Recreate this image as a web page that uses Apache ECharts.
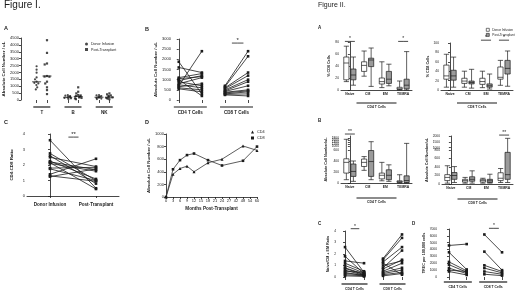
<!DOCTYPE html>
<html>
<head>
<meta charset="utf-8">
<script src="https://cdn.jsdelivr.net/npm/echarts@6/dist/echarts.min.js"></script>
<style>
html, body { margin: 0; padding: 0; background: #fff; }
#chart { width: 520px; height: 294px; }
</style>
</head>
<body>
<div id="chart"></div>
<script>
const ink = '#1b1b1b';

// ---- Figure I, panel A (column scatter) ----
const aCats = ['T', 'B', 'NK'];
const aTDonor = [2450, 2200, 1980, 1640, 1500, 1330, 1250, 1200, 1090, 920, 770];
const aTPost = [4340, 3420, 2650, 2580, 1740, 1700, 1690, 1330, 1200, 920, 720, 430];
const aBDonor = [360, 320, 290, 250, 220, 180, 150, 120, 80];
const aBPost = [920, 600, 480, 360, 330, 290, 250, 190, 150, 120, 60];
const aNKDonor = [360, 330, 290, 240, 210, 170, 140, 100, 70];
const aNKPost = [480, 410, 330, 290, 240, 190, 150, 100, 60];
const aMedDonor = [1320, 200, 200];
const aMedPost = [1740, 250, 200];

// ---- Figure I, panel B (paired) ----
const bGroups = ['CD4 T Cells', 'CD8 T Cells'];
const bCD4Donor = [1880, 1600, 1100, 1050, 1000, 950, 900, 800, 750, 700, 650, 600, 550];
const bCD4Post = [300, 1350, 1300, 1150, 200, 1200, 700, 1100, 600, 2400, 800, 500, 400];
const bCD8Donor = [700, 650, 600, 560, 500, 450, 420, 380, 350, 300, 280, 250];
const bCD8Post = [2400, 2150, 1350, 1200, 1000, 900, 700, 500, 450, 400, 300, 200];

// ---- Figure I, panel C (paired ratio) ----
const cCats = ['Donor Infusion', 'Post-Transplant'];
const cDonor = [3.6, 2.75, 2.6, 2.5, 2.25, 2.2, 2.15, 2.1, 1.8, 1.75, 1.4, 1.3, 1.25];
const cPost = [0.5, 1.0, 0.8, 1.9, 1.1, 1.7, 0.45, 1.6, 1.85, 1.0, 2.4, 0.95, 1.75];

// ---- Figure I, panel D (time course) ----
const dMonths = ['0', '3', '6', '9', '12', '15', '18', '21', '24', '27', '42', '48', '54', '60'];
const dCD4 = [0, 362, 452, 490, 400, null, 543, null, 600, null, null, 810, null, 740];
const dCD8 = [0, 440, 585, 665, 690, null, 585, null, 500, null, null, 575, null, 800];

// ---- Figure II, panels A and B (box plots: min, q1, median, q3, max) ----
const boxCats = ['Naive', 'CM', 'EM', 'TEMRA'];
const a4Donor = [[14, 17, 45, 55, 73], [23, 31, 41, 47, 65], [4, 10, 14, 20, 47], [0, 1, 2, 4.5, 15]];
const a4Post = [[8, 17, 25, 35, 55], [6, 39, 50, 53, 70], [7, 11, 18, 31, 43], [0, 2, 8, 18, 64]];
const a8Donor = [[6, 23, 30, 53, 76], [6, 14, 19, 25, 40], [5, 12, 18, 25, 40], [10, 23, 27, 49, 63]];
const a8Post = [[6, 21, 30, 42, 70], [4, 13, 16, 19, 44], [2, 6, 9, 13, 34], [8, 34, 46, 63, 83]];
const b4Donor = [[60, 180, 375, 440, 1670], [230, 300, 375, 435, 480], [40, 75, 140, 180, 375], [0, 10, 25, 40, 150]];
const b4Post = [[30, 120, 210, 345, 400], [60, 120, 390, 590, 1430], [30, 60, 140, 240, 330], [0, 10, 45, 130, 1260]];
const b8Donor = [[20, 80, 155, 220, 430], [20, 45, 80, 110, 155], [20, 45, 80, 110, 135], [35, 80, 135, 265, 365]];
const b8Post = [[35, 110, 200, 270, 410], [20, 65, 110, 170, 310], [20, 35, 75, 110, 230], [35, 110, 220, 745, 1800]];
const b4Ticks = [0, 200, 400, 600, 1000, 1200, 1400, 1600, 1800, 2000];
const b8Ticks = [0, 200, 400, 600, 800, 1000, 1500, 2000];

// ---- Figure II, panels C and D (paired) ----
const c4Donor = [2.6, 1.8, 1.4, 1.2, 1.0, 0.8, 0.75, 0.6, 0.5, 0.4, 0.3, 0.2, 0.1];
const c4Post = [0.4, 0.3, 1.2, 0.5, 0.35, 0.25, 0.2, 0.15, 0.4, 0.1, 0.2, 0.1, 0.05];
const c8Donor = [1.6, 1.5, 1.3, 1.0, 0.8, 0.7, 0.5, 0.4, 0.3, 0.2, 0.1, 1.2];
const c8Post = [3.7, 3.4, 2.6, 1.4, 2.3, 1.5, 1.2, 0.8, 0.6, 0.4, 0.3, 0.2];
const d4Donor = [4600, 3600, 2200, 1800, 1300, 1000, 800];
const d4Post = [4800, 1100, 900, 700, 500, 800, 300];
const d8Donor = [6200, 3700, 1700, 1300, 800, 400];
const d8Post = [3600, 1000, 800, 600, 400, 200];

const chart = echarts.init(document.getElementById('chart'), null, { renderer: 'canvas' });

const grids = [], xAxes = [], yAxes = [], series = [];
const add = (arr, o) => (arr.push(o), arr.length - 1);

function grid(left, top, width, height) {
    return add(grids, { left, top, width, height, outerBoundsMode: 'none' });
}

function yAxis(g, min, max, interval, name, gap, fs, extra) {
    return add(yAxes, Object.assign({
        gridIndex: g, type: 'value', min, max, interval,
        name, nameLocation: 'middle', nameGap: gap,
        nameTextStyle: { fontSize: fs + 0.4, fontWeight: 'bold', color: ink },
        axisLine: { show: true, lineStyle: { color: ink, width: 0.8 } },
        axisTick: { show: true, length: 2, lineStyle: { color: ink, width: 0.8 } },
        axisLabel: { fontSize: fs, color: ink, margin: 2, formatter: v => String(v) },
        splitLine: { show: false }
    }, extra || {}));
}

// value axis that only shows ticks under the columns and group names with a bar above
function groupAxis(g, min, max, ticks, pos, names, barW, fs, margin) {
    return add(xAxes, {
        gridIndex: g, type: 'value', min, max, position: 'bottom',
        axisLine: { show: false }, splitLine: { show: false },
        axisTick: { show: true, customValues: ticks, length: 3, lineStyle: { color: ink, width: 0.8 } },
        axisLabel: {
            show: true, customValues: pos, margin,
            formatter: v => '{bar|}\n{t|' + names[pos.findIndex(p => Math.abs(p - v) < 1e-6)] + '}',
            rich: {
                bar: { width: barW, height: 1.2, backgroundColor: ink, lineHeight: 4 },
                t: { fontSize: fs, fontWeight: 'bold', color: ink, lineHeight: 7 }
            }
        }
    });
}

function pairs(xi, yi, a, b, x0) {
    a.forEach((v, i) => series.push({
        type: 'line', xAxisIndex: xi, yAxisIndex: yi, silent: true,
        data: [[x0, v], [x0 + 1, b[i]]],
        symbol: 'rect', symbolSize: 2.6,
        lineStyle: { color: ink, width: 0.8 }, itemStyle: { color: ink }
    }));
}

function sig(xi, yi, x0, x1, y, txt, fs) {
    series.push({
        type: 'line', xAxisIndex: xi, yAxisIndex: yi, clip: false, silent: true,
        symbol: 'circle', symbolSize: 0, lineStyle: { color: ink, width: 0.8 },
        data: [[x0, y], {
            value: [(x0 + x1) / 2, y],
            label: { show: true, formatter: txt, position: 'top', distance: 0, fontSize: fs, color: ink }
        }, [x1, y]]
    });
}

// ---------- Figure I A ----------
const gA = grid(21, 38, 104, 62);
const aSlots = ['s0', 'T-d', 'T-p', 's1', 'B-d', 'B-p', 's2', 'NK-d', 'NK-p', 's3'];
const xAj = add(xAxes, {
    gridIndex: gA, type: 'category', data: aSlots, show: false, position: 'top',
    jitter: 7, jitterOverlap: false, jitterMargin: 0.3
});
const xAv = groupAxis(gA, 0, 10, [1.5, 2.5, 4.5, 5.5, 7.5, 8.5], [2, 5, 8], aCats, 17, 4.5, 5);
const yA = yAxis(gA, 0, 4500, 500, 'Absolute Cell Number / uL', 11, 4);
const aDonorCols = [aTDonor, aBDonor, aNKDonor];
const aPostCols = [aTPost, aBPost, aNKPost];
series.push({
    name: 'Donor Infusion', type: 'scatter', xAxisIndex: xAj, yAxisIndex: yA,
    symbol: 'circle', symbolSize: 2.2, itemStyle: { color: ink },
    data: aDonorCols.flatMap((col, g) => col.map(v => [g * 3 + 1, v]))
});
series.push({
    name: 'Post-Transplant', type: 'scatter', xAxisIndex: xAj, yAxisIndex: yA,
    symbol: 'rect', symbolSize: 2.2, itemStyle: { color: ink },
    data: aPostCols.flatMap((col, g) => col.map(v => [g * 3 + 2, v]))
});
series.push({
    type: 'scatter', xAxisIndex: xAv, yAxisIndex: yA, silent: true,
    symbol: 'rect', symbolSize: [9, 1], itemStyle: { color: ink },
    data: aMedDonor.map((v, g) => [g * 3 + 1.5, v]).concat(aMedPost.map((v, g) => [g * 3 + 2.5, v]))
});

// ---------- Figure I B ----------
const gB = grid(173, 39, 82, 61);
const xB = groupAxis(gB, -0.25, 3.3, [0, 1, 2, 3], [0.5, 2.5], bGroups, 33, 4.5, 5);
const yB = yAxis(gB, 0, 3000, 500, 'Absolute Cell Number / uL', 15, 4);
pairs(xB, yB, bCD4Donor, bCD4Post, 0);
pairs(xB, yB, bCD8Donor, bCD8Post, 2);
sig(xB, yB, 2.3, 2.8, 2800, '*', 6);

// ---------- Figure I C ----------
const gC = grid(27, 134, 92, 62);
const xC = add(xAxes, {
    gridIndex: gC, type: 'value', min: -0.5, max: 1.5,
    axisLine: { show: true, lineStyle: { color: ink, width: 0.8 } },
    axisTick: { show: true, customValues: [0, 1], length: 2, lineStyle: { color: ink, width: 0.8 } },
    axisLabel: {
        customValues: [0, 1], margin: 6, fontSize: 4.6, fontWeight: 'bold', color: ink,
        formatter: v => cCats[Math.round(v)]
    },
    splitLine: { show: false }
});
const yC = yAxis(gC, 0, 4, 1, 'CD4:CD8 Ratio', 13, 4);
pairs(xC, yC, cDonor, cPost, 0);
sig(xC, yC, 0.4, 0.62, 3.8, '**', 6);

// ---------- Figure I D ----------
const gD = grid(166, 134, 91, 63);
const xD = add(xAxes, {
    gridIndex: gD, type: 'category', data: dMonths, boundaryGap: false,
    name: 'Months Post-Transplant', nameLocation: 'middle', nameGap: 9,
    nameTextStyle: { fontSize: 4.6, fontWeight: 'bold', color: ink },
    axisLine: { lineStyle: { color: ink, width: 0.8 } },
    axisTick: { length: 2, interval: 0, lineStyle: { color: ink, width: 0.8 } },
    axisLabel: { fontSize: 4, color: ink, margin: 2, interval: 0 }
});
const yD = yAxis(gD, 0, 1000, 200, 'Absolute Cell Number / uL', 12, 4);
series.push({
    name: 'CD4', type: 'line', xAxisIndex: xD, yAxisIndex: yD, connectNulls: true,
    data: dCD4, symbol: 'triangle', symbolSize: 3,
    lineStyle: { color: '#333', width: 0.8 }, itemStyle: { color: ink }
});
series.push({
    name: 'CD8', type: 'line', xAxisIndex: xD, yAxisIndex: yD, connectNulls: true,
    data: dCD8, symbol: 'rect', symbolSize: 2.6,
    lineStyle: { color: '#333', width: 0.8 }, itemStyle: { color: ink }
});

// ---------- Figure II box plots ----------
function brk(lin, span) {
    return v => v <= lin ? v / 200 : lin / 200 + (v - lin) / (2000 - lin) * span;
}
function boxPanel(left, top, width, height, donor, post, f, yCfg, groupName, nameGap) {
    const g = grid(left, top, width, height);
    const xc = add(xAxes, {
        gridIndex: g, type: 'category', data: boxCats, position: 'bottom',
        name: '{bar|}\n{t|' + groupName + '}', nameLocation: 'middle', nameGap,
        nameTextStyle: {
            rich: {
                bar: { width: 40, height: 1, backgroundColor: ink, lineHeight: 3 },
                t: { fontSize: 3.4, fontWeight: 'bold', color: ink, lineHeight: 5 }
            }
        },
        axisLine: { lineStyle: { color: ink, width: 0.8 } },
        axisTick: { alignWithLabel: true, length: 2, lineStyle: { color: ink, width: 0.8 } },
        axisLabel: { fontSize: 3.4, fontWeight: 'bold', color: ink, margin: 3, interval: 0 }
    });
    const xv = add(xAxes, { gridIndex: g, type: 'value', min: -0.5, max: 3.5, show: false, position: 'top' });
    const yi = yAxis(g, yCfg.min, yCfg.max, yCfg.interval, yCfg.name, yCfg.gap, 3.3, yCfg.extra);
    series.push({
        name: 'II Donor Infusion', type: 'boxplot', xAxisIndex: xc, yAxisIndex: yi,
        boxWidth: [4, 6], silent: true,
        itemStyle: { color: '#fff', borderColor: ink, borderWidth: 0.7 },
        data: donor.map(r => r.map(f))
    });
    series.push({
        name: 'II Post-Transplant', type: 'boxplot', xAxisIndex: xc, yAxisIndex: yi,
        boxWidth: [4, 6], silent: true,
        itemStyle: { color: '#9a9a9a', borderColor: ink, borderWidth: 0.7 },
        data: post.map(r => r.map(f))
    });
    return { xv, yi };
}
function brokenAxis(ticks, f) {
    const vals = ticks.map(f);
    const fmt = v => String(ticks[vals.findIndex(t => Math.abs(t - v) < 1e-6)]);
    return {
        axisLabel: { fontSize: 3.3, color: ink, margin: 2, customValues: vals, formatter: fmt },
        axisTick: { show: true, length: 2, customValues: vals, lineStyle: { color: ink, width: 0.8 } }
    };
}
const same = v => v;

const pAL = boxPanel(341, 42, 71, 48, a4Donor, a4Post, same,
    { min: 0, max: 80, interval: 20, name: '% CD4 Cells', gap: 8 }, 'CD4 T Cells', 11.5);
sig(pAL.xv, pAL.yi, -0.28, 0.28, 81, '*', 5);
sig(pAL.xv, pAL.yi, 2.72, 3.28, 81, '*', 5);

const pAR = boxPanel(441, 43, 72, 47, a8Donor, a8Post, same,
    { min: 0, max: 100, interval: 20, name: '% CD8 Cells', gap: 9 }, 'CD8 T Cells', 11.5);
sig(pAR.xv, pAR.yi, 1.72, 2.28, 106, '*', 5);
sig(pAR.xv, pAR.yi, 2.72, 3.28, 106, '*', 5);

const f4 = brk(600, 1.27), f8 = brk(800, 1.65);
const pBL = boxPanel(341, 136, 71, 47, b4Donor, b4Post, f4,
    { min: 0, max: f4(2000), name: 'Absolute Cell Number/uL', gap: 11, extra: brokenAxis(b4Ticks, f4) },
    'CD4 T Cells', 13.5);
sig(pBL.xv, pBL.yi, -0.28, 0.28, 4.45, '**', 5);

const pBR = boxPanel(442, 136, 71, 48, b8Donor, b8Post, f8,
    { min: 0, max: f8(2000), name: 'Absolute Cell Number/uL', gap: 11, extra: brokenAxis(b8Ticks, f8) },
    'CD8 T Cells', 13.5);
sig(pBR.xv, pBR.yi, 2.72, 3.28, 5.76, '**', 5);

// ---------- Figure II C ----------
const gIIC = grid(338, 231, 72, 46);
const xIIC = groupAxis(gIIC, -0.37, 3.42, [0, 1, 2, 3], [0.5, 2.5], bGroups, 26, 3.4, 5);
const yIIC = yAxis(gIIC, 0, 4, 1, 'Naive/CM + EM Ratio', 8, 3.3);
pairs(xIIC, yIIC, c4Donor, c4Post, 0);
pairs(xIIC, yIIC, c8Donor, c8Post, 2);
sig(xIIC, yIIC, 0.3, 0.75, 4.2, '*', 5);

// ---------- Figure II D ----------
const gIID = grid(439, 229, 71, 48);
const xIID = groupAxis(gIID, -0.565, 3.45, [0, 1, 2, 3], [0.5, 2.5], bGroups, 28, 3.4, 3);
const yIID = yAxis(gIID, 0, 7000, 1000, 'TREC per 100,000 cells', 10, 3.3);
pairs(xIID, yIID, d4Donor, d4Post, 0);
pairs(xIID, yIID, d8Donor, d8Post, 2);
sig(xIID, yIID, 2.26, 2.82, 7100, '*', 5);

const titleStyle = (fs, w) => ({ fontSize: fs, fontWeight: w, color: ink });
const option = {
    animation: false,
    backgroundColor: '#fff',
    textStyle: { fontFamily: 'Liberation Sans' },
    title: [
        { text: 'Figure I.', left: 4, top: 0, textStyle: titleStyle(10, 'normal') },
        { text: 'Figure II.', left: 318, top: 2, textStyle: titleStyle(7, 'normal') },
        { text: 'A', left: 4, top: 25, textStyle: titleStyle(5.5, 'bold') },
        { text: 'B', left: 145, top: 26, textStyle: titleStyle(5.5, 'bold') },
        { text: 'C', left: 4, top: 119, textStyle: titleStyle(5.5, 'bold') },
        { text: 'D', left: 145, top: 119, textStyle: titleStyle(5.5, 'bold') },
        { text: 'A', left: 318, top: 25, textStyle: titleStyle(4.5, 'bold') },
        { text: 'B', left: 318, top: 118, textStyle: titleStyle(4.5, 'bold') },
        { text: 'C', left: 318, top: 221, textStyle: titleStyle(4.5, 'bold') },
        { text: 'D', left: 412, top: 221, textStyle: titleStyle(4.5, 'bold') }
    ].map(t => Object.assign({ padding: 0 }, t)),
    legend: [
        {
            left: 80, top: 37, orient: 'vertical', itemWidth: 3, itemHeight: 3, itemGap: 1.5,
            textStyle: { fontSize: 3.6, color: ink, padding: [0, 0, 0, -2] }, selectedMode: false,
            data: [{ name: 'Donor Infusion', icon: 'circle' }, { name: 'Post-Transplant', icon: 'rect' }]
        },
        {
            left: 246, top: 125, orient: 'vertical', itemWidth: 3, itemHeight: 3, itemGap: 2,
            textStyle: { fontSize: 3.8, color: ink, padding: [0, 0, 0, -2] }, selectedMode: false,
            data: [{ name: 'CD4', icon: 'triangle' }, { name: 'CD8', icon: 'rect' }]
        },
        {
            left: 481, top: 23, orient: 'vertical', itemWidth: 3, itemHeight: 3, itemGap: 1.5,
            textStyle: { fontSize: 3.2, color: ink, padding: [0, 0, 0, -2] }, selectedMode: false,
            formatter: n => n.replace('II ', ''),
            data: [
                { name: 'II Donor Infusion', icon: 'rect', itemStyle: { color: '#fff', borderColor: ink, borderWidth: 0.6 } },
                { name: 'II Post-Transplant', icon: 'rect', itemStyle: { color: '#9a9a9a', borderColor: ink, borderWidth: 0.6 } }
            ]
        }
    ],
    grid: grids,
    xAxis: xAxes,
    yAxis: yAxes,
    series
};
chart.setOption(option);
</script>
</body>
</html>
